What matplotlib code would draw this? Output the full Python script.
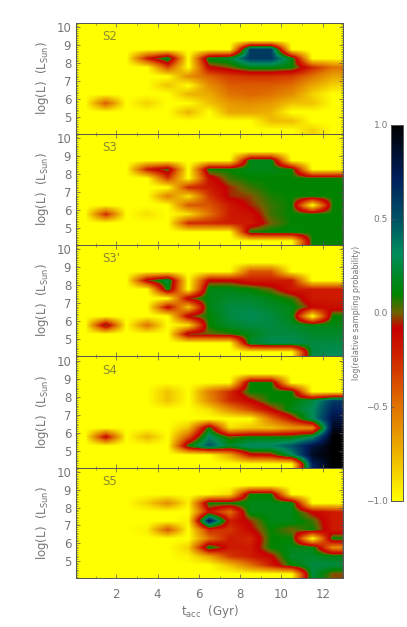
import numpy as np
import matplotlib
matplotlib.use("Agg")
import matplotlib.pyplot as plt
from matplotlib.colors import LinearSegmentedColormap, Normalize
from matplotlib.cm import ScalarMappable
from matplotlib.ticker import MultipleLocator

# bin centres: t_acc 0.5..12.5 Gyr (columns), log L 4.25..9.75 (rows, bottom first)
panel_names = ["S2", "S3", "S3'", "S4", "S5"]

s2 = [
    [-1, -1, -1, -1, -1, -1, -1, -1, -1, -1, -1, -.85, -1],
    [-1, -1, -1, -1, -1, -1, -1, -1, -1, -.78, -.78, -1, -1],
    [-1, -1, -1, -1, -1, -.75, -1, -.7, -.7, -.75, -1, -1, -1],
    [-1, -.42, -1, -.85, -1, -1, -.8, -.65, -.6, -.65, -.8, -.8, -1],
    [-1, -1, -1, -1, -1, -.75, -.72, -.5, -.45, -.5, -.6, -.85, -1],
    [-1, -1, -1, -1, -.8, -1, -.6, -.42, -.42, -.42, -.48, -.7, -.85],
    [-1, -1, -1, -1, -1, -.6, -.45, -.32, -.28, -.28, -.32, -.5, -.7],
    [-1, -1, -1, -1, -.35, -1, -.1, 0, .15, .15, .1, -.25, -.5],
    [-1, -1, -1, -.2, .2, -1, .15, .2, .6, .6, .15, -1, -1],
    [-1, -1, -1, -1, -1, -1, -1, -1, .6, .6, -1, -1, -1],
    [-1, -1, -1, -1, -1, -1, -1, -1, -1, -1, -1, -1, -1],
    [-1, -1, -1, -1, -1, -1, -1, -1, -1, -1, -1, -1, -1],
]
s3 = [
    [-1, -1, -1, -1, -1, -1, -1, -1, -1, -1, -1, .1, .1],
    [-1, -1, -1, -1, -1, -1, -1, -1, .08, .12, .12, .1, .1],
    [-1, -1, -1, -1, -1, -.25, -.25, -.2, -.2, 0, .1, .1, .1],
    [-1, -.25, -1, -.9, -1, -.9, -.5, -.2, -.15, .05, .1, .1, .1],
    [-1, -1, -1, -1, -1, -.4, -.4, -.2, -.05, .05, .1, -1, .1],
    [-1, -1, -1, -1, -.55, -.9, -.3, -.05, -.02, .08, .1, .1, .1],
    [-1, -1, -1, -1, -1, -.25, -.2, -.05, .05, .1, .1, .1, .1],
    [-1, -1, -1, -1, -.3, -1, -.15, .05, .1, .1, .1, .1, .1],
    [-1, -1, -1, -.2, .05, -1, .1, .1, .15, .15, .1, -1, -1],
    [-1, -1, -1, -1, -1, -1, -1, -1, .15, .15, -1, -1, -1],
    [-1, -1, -1, -1, -1, -1, -1, -1, -1, -1, -1, -1, -1],
    [-1, -1, -1, -1, -1, -1, -1, -1, -1, -1, -1, -1, -1],
]
s3p = [
    [-1, -1, -1, -1, -1, -1, -1, -1, -1, -1, -1, .25, .3],
    [-1, -1, -1, -1, -1, -1, -1, -1, .2, .3, .3, .25, .25],
    [-1, -1, -1, -1, -1, 0, 0, .05, .15, .25, .25, .2, .2],
    [-1, .05, -1, -.5, -1, -.9, .1, .2, .25, .25, .2, .15, .15],
    [-1, -1, -1, -1, -1, -.05, .1, .25, .3, .25, .15, -1, .1],
    [-1, -1, -1, -1, -.1, -.8, .15, .25, .25, .2, .15, -.1, -.15],
    [-1, -1, -1, -1, -1, -.05, .15, .2, .2, .15, .05, -.2, -.2],
    [-1, -1, -1, -1, .15, -1, .15, .15, .1, 0, -.2, -.2, -.2],
    [-1, -1, -1, -.05, .25, -1, -.1, -.1, -.2, -.2, -.2, -1, -1],
    [-1, -1, -1, -1, -1, -1, -1, -1, -.4, -.4, -1, -1, -1],
    [-1, -1, -1, -1, -1, -1, -1, -1, -1, -1, -1, -1, -1],
    [-1, -1, -1, -1, -1, -1, -1, -1, -1, -1, -1, -1, -1],
]
s4 = [
    [-1, -1, -1, -1, -1, -1, -1, -1, -1, -1, -1, .7, 1],
    [-1, -1, -1, -1, -1, -1, -1, -.7, -.15, -.1, .3, .9, 1],
    [-1, -1, -1, -1, -1, .1, .5, .2, .35, .35, .5, .8, 1],
    [-1, -.1, -1, -.75, -1, -.4, .35, .02, .1, .1, .1, .3, 1],
    [-1, -1, -1, -1, -1, -.8, .1, -.9, -.8, -.8, -.65, -.6, .9],
    [-1, -1, -1, -1, -1, -1, -1, -1, -1, -.5, -.15, .3, .8],
    [-1, -1, -1, -1, -1, -1, -.9, -.6, -.35, -.1, .15, .3, .7],
    [-1, -1, -1, -1, -.8, -1, -.6, -.25, -.1, .1, .1, .25, .6],
    [-1, -1, -1, -1, -.8, -1, -.55, -.25, .1, .1, .1, -1, -1],
    [-1, -1, -1, -1, -1, -1, -1, -1, .1, .1, -1, -1, -1],
    [-1, -1, -1, -1, -1, -1, -1, -1, -1, -1, -1, -1, -1],
    [-1, -1, -1, -1, -1, -1, -1, -1, -1, -1, -1, -1, -1],
]
s5 = [
    [-1, -1, -1, -1, -1, -1, -1, -1, -1, -1, -1, .25, -.02],
    [-1, -1, -1, -1, -1, -1, -1, -.8, -.5, -.2, .1, .25, .25],
    [-1, -1, -1, -1, -1, -.95, -.7, -.3, -.2, -.1, .2, .2, .15],
    [-1, -1, -1, -1, -1, -.85, .15, -.2, -.2, .1, .15, .15, -.6],
    [-1, -1, -1, -1, -1, -1, -.5, -.2, -.25, .1, .1, -1, .1],
    [-1, -1, -1, -.95, -.4, -1, -.25, -.3, -.1, .1, 0, .1, -.2],
    [-1, -1, -1, -1, -1, -.95, .8, -.2, -.05, .15, .15, .05, -.2],
    [-1, -1, -1, -1, -1, -1, -.15, -.5, .15, .15, .15, -.1, -.2],
    [-1, -1, -1, -.85, -.6, -.95, .1, .1, .15, .15, .15, -1, -1],
    [-1, -1, -1, -1, -1, -1, -1, -.9, .1, .1, -1, -1, -1],
    [-1, -1, -1, -1, -1, -1, -1, -1, -1, -1, -1, -1, -1],
    [-1, -1, -1, -1, -1, -1, -1, -1, -1, -1, -1, -1, -1],
]
panels = [s2, s3, s3p, s4, s5]

y_ticks = [5, 6, 7, 8, 9, 10]
x_ticks = [2, 4, 6, 8, 10, 12]
cbar_ticks = [-1.0, -0.5, 0.0, 0.5, 1.0]

W, H = 407, 627
txt = "#767676"
edge = "#555555"

cmap = LinearSegmentedColormap.from_list("sampling", [
    (0.000, (1.00, 1.00, 0.00)),
    (0.125, (0.93, 0.70, 0.00)),
    (0.250, (0.88, 0.45, 0.00)),
    (0.400, (0.80, 0.10, 0.00)),
    (0.460, (0.78, 0.00, 0.00)),
    (0.500, (0.45, 0.38, 0.00)),
    (0.550, (0.00, 0.52, 0.00)),
    (0.660, (0.00, 0.55, 0.36)),
    (0.750, (0.00, 0.32, 0.40)),
    (0.860, (0.00, 0.12, 0.36)),
    (1.000, (0.00, 0.00, 0.00)),
])
norm = Normalize(-1, 1)

fig = plt.figure(figsize=(W / 100, H / 100), dpi=100)
plt.rcParams["mathtext.default"] = "regular"

tops = [23, 134, 245, 356, 468]
bots = [134, 245, 356, 468, 578]
left, right = 76, 343

for i, (name, grid) in enumerate(zip(panel_names, panels)):
    ax = fig.add_axes([left / W, 1 - bots[i] / H, (right - left) / W, (bots[i] - tops[i]) / H])
    ax.set_facecolor((1, 1, 0))
    ax.imshow(np.array(grid), origin="lower", extent=[0, 13, 4, 10], cmap=cmap, norm=norm,
              interpolation="bilinear", aspect="auto")
    ax.set_xlim(0.05, 12.98)
    ax.set_ylim(4.03, 10.25)
    ax.set_xticks(x_ticks)
    ax.set_yticks(y_ticks)
    ax.xaxis.set_minor_locator(MultipleLocator(1))
    ax.yaxis.set_minor_locator(MultipleLocator(0.1))
    ax.tick_params(which="major", direction="in", top=True, right=True, length=3, width=0.5,
                   color=edge, labelcolor=txt, labelsize=8.5, pad=3.5)
    ax.tick_params(which="minor", direction="in", top=True, right=True, length=1.5, width=0.4,
                   color=edge)
    for s in ax.spines.values():
        s.set_color(edge)
        s.set_linewidth(0.7)
    if i < 4:
        ax.set_xticklabels([])
    else:
        ax.tick_params(axis="x", which="major", pad=7)
        ax.set_xlabel("t$_{acc}$  (Gyr)", color=txt, fontsize=8.5, labelpad=1.5)
    ax.set_ylabel("log(L)  (L$_{Sun}$)", color=txt, fontsize=8.5, labelpad=3.5)
    ax.text(1.3, 9.47, name, color="#8a8a30", fontsize=8.5, va="center", ha="left")

cax = fig.add_axes([391 / W, 1 - 501 / H, 12 / W, 376 / H])
cb = fig.colorbar(ScalarMappable(norm=norm, cmap=cmap), cax=cax, orientation="vertical")
cb.set_ticks(cbar_ticks)
cb.ax.yaxis.set_ticks_position("left")
cb.ax.yaxis.set_label_position("left")
cb.ax.set_yticklabels(["\u22121.0", "\u22120.5", "0.0", "0.5", "1.0"])
cb.ax.tick_params(direction="in", length=2, width=0.5, color=edge, labelcolor=txt, labelsize=6.5, pad=2)
cb.outline.set_edgecolor(edge)
cb.outline.set_linewidth(0.7)
cb.set_label("log(relative sampling probability)", color=txt, fontsize=5.8, labelpad=3.5)

fig.savefig("out.png", dpi=100)
